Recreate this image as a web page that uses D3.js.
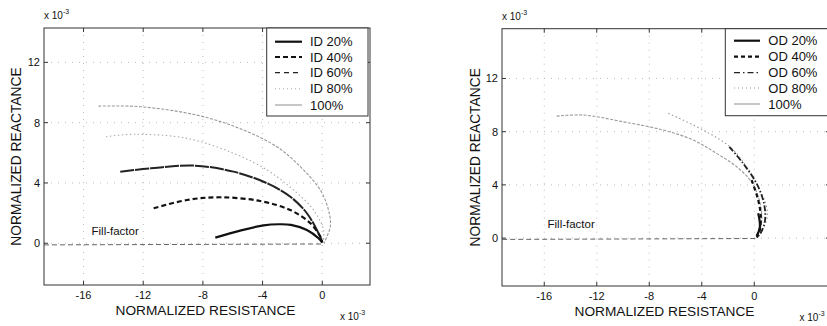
<!DOCTYPE html>
<html><head><meta charset="utf-8">
<script src="https://cdn.jsdelivr.net/npm/d3@7"></script>
<style>body{margin:0;background:#fff}svg{display:block}text{font-family:"Liberation Sans",Arial,sans-serif;fill:#111}</style>
</head><body><svg id="c" width="827" height="326"></svg>
<script>
// ---- DATA (units of 1e-3) ----
const xTicks = [-16, -12, -8, -4, 0];
const yTicks = [0, 4, 8, 12];
const leftLabels = ["ID 20%", "ID 40%", "ID 60%", "ID 80%", "100%"];
const rightLabels = ["OD 20%", "OD 40%", "OD 60%", "OD 80%", "100%"];
const fillFactorLeft = [[-18.65, -0.11], [0.05, -0.05]];
const fillFactorRight = [[-19.2, -0.1], [0.1, -0.03]];
// left panel (inner defect)
const id20 = [[-7.17,0.37],[-5.5,0.84],[-3.93,1.19],[-2.9,1.26],[-2.1,1.22],[-1.03,0.88],[-0.25,0.33],[0,0.05]];
const id40 = [[-11.3,2.32],[-9.07,2.87],[-6.84,3.05],[-4.16,2.8],[-2.14,2.2],[-0.8,1.33],[-0.13,0.44],[0,0.05]];
const id60 = [[-13.54,4.75],[-11.5,4.97],[-8.6,5.15],[-5.95,4.75],[-3.7,3.98],[-2.14,3.09],[-1.03,1.99],[-0.36,0.88],[0,0.1]];
const id80 = [[-14.5,7.07],[-12.6,7.23],[-9.07,6.96],[-5.95,5.97],[-3.7,4.86],[-1.92,3.53],[-0.58,2.2],[0.09,0.88],[0.05,0.05]];
const id100 = [[-15.0,9.1],[-12.2,9.06],[-8.4,8.5],[-5.5,7.6],[-3.04,6.4],[-1.47,5.08],[-0.13,3.53],[0.42,2.2],[0.54,1.1],[0.1,0.0]];
// right panel (outer defect)
const od20 = [[0.3,1.86],[0.43,0.85],[0.18,0.15]];
const od40 = [[-0.2,4.36],[0.3,2.86],[0.5,1.6],[0.42,0.6],[0.2,0.05]];
const od60 = [[-1.9,6.86],[-0.84,5.6],[0.18,4.1],[0.74,2.6],[0.82,1.35],[0.5,0.4],[0.2,0.05]];
const od80 = [[-6.55,9.38],[-3.89,8.12],[-1.85,6.86],[-0.58,5.36],[0.3,3.86],[0.94,2.35],[0.94,1.35],[0.43,0.35],[0.18,0.05]];
const od100 = [[-15.06,9.17],[-13.0,9.25],[-9.98,8.74],[-6.93,8.12],[-4.65,7.37],[-2.87,6.37],[-1.34,5.36],[-0.2,4.2],[0.45,2.6],[0.55,1.1],[0.2,0.0]];

// ---- STYLES ----
const styles = [
  {stroke:"#111", w:2.2, dash:null, legDash:null},
  {stroke:"#111", w:2.2, dash:"5,3", legDash:"5,3"},
  {stroke:"#222", w:2.0, dash:"14,1", legDash:"5,4", legW:1.2},
  {stroke:"#aaa", w:1.1, dash:"1.5,2.5", legDash:"1,3"},
  {stroke:"#999", w:1.1, dash:"3,1.5", legDash:null}
];
const stylesR = [
  {stroke:"#111", w:2.2, dash:null, legDash:null},
  {stroke:"#111", w:2.2, dash:"4,3", legDash:"4,3"},
  {stroke:"#222", w:1.8, dash:"6,2,1.5,2", legDash:"6,3,1.5,3", legW:1.3},
  {stroke:"#999", w:1.1, dash:"1.5,2.5", legDash:"1,3"},
  {stroke:"#999", w:1.1, dash:"3,1.5", legDash:null}
];

const svg = d3.select("#c");

function panel(cfg) {
  const x = d3.scaleLinear().domain(cfg.xd).range(cfg.xr);
  const y = d3.scaleLinear().domain(cfg.yd).range(cfg.yr);
  const g = svg.append("g");
  const [x0, x1] = cfg.xr, [y1, y0] = cfg.yr;
  // grid
  g.selectAll(".gx").data(xTicks).join("line")
    .attr("x1", d => x(d)).attr("x2", d => x(d)).attr("y1", y0).attr("y2", y1)
    .attr("stroke", "#bbb").attr("stroke-width", 1).attr("stroke-dasharray", "1,6");
  g.selectAll(".gy").data(yTicks).join("line")
    .attr("y1", d => y(d)).attr("y2", d => y(d)).attr("x1", x0).attr("x2", x1)
    .attr("stroke", "#bbb").attr("stroke-width", 1).attr("stroke-dasharray", "1,6");
  // clip
  const cid = "clip" + cfg.id;
  svg.append("clipPath").attr("id", cid).append("rect")
    .attr("x", x0).attr("y", y0).attr("width", x1 - x0).attr("height", y1 - y0);
  const line = d3.line().x(d => x(d[0])).y(d => y(d[1])).curve(d3.curveCatmullRom.alpha(0.5));
  const cg = g.append("g").attr("clip-path", `url(#${cid})`);
  // fill factor line
  cg.append("path").attr("d", d3.line().x(d => x(d[0])).y(d => y(d[1]))(cfg.ff))
    .attr("fill", "none").attr("stroke", "#666").attr("stroke-width", 1).attr("stroke-dasharray", "5,3");
  // series (draw lighter first)
  cfg.series.map((s, i) => ({s, i})).reverse().forEach(({s, i}) => {
    const st = cfg.styles[i];
    cg.append("path").attr("d", line(s)).attr("fill", "none")
      .attr("stroke", st.stroke).attr("stroke-width", st.w)
      .attr("stroke-dasharray", st.dash).attr("stroke-linecap", "butt");
  });
  // box
  g.append("rect").attr("x", x0).attr("y", y0).attr("width", x1 - x0).attr("height", y1 - y0)
    .attr("fill", "none").attr("stroke", "#333").attr("stroke-width", 1);
  // ticks (inside)
  const tl = 4;
  xTicks.forEach(t => {
    g.append("line").attr("x1", x(t)).attr("x2", x(t)).attr("y1", y1).attr("y2", y1 - tl).attr("stroke", "#333");
    g.append("line").attr("x1", x(t)).attr("x2", x(t)).attr("y1", y0).attr("y2", y0 + tl).attr("stroke", "#333");
  });
  yTicks.forEach(t => {
    g.append("line").attr("y1", y(t)).attr("y2", y(t)).attr("x1", x0).attr("x2", x0 + tl).attr("stroke", "#333");
    g.append("line").attr("y1", y(t)).attr("y2", y(t)).attr("x1", x1).attr("x2", x1 - tl).attr("stroke", "#333");
  });
  // tick labels
  g.selectAll(".tx").data(xTicks).join("text")
    .attr("x", d => x(d)).attr("y", y1 + 14).attr("text-anchor", "middle")
    .attr("font-size", 11).text(d => d);
  g.selectAll(".ty").data(yTicks).join("text")
    .attr("x", x0 - 4).attr("y", d => y(d) + 4).attr("text-anchor", "end")
    .attr("font-size", 11).text(d => d);
  // axis labels
  g.append("text").attr("x", (x0 + x1) / 2 - 1.5).attr("y", y1 + 30).attr("text-anchor", "middle")
    .attr("font-size", 13.7).text("NORMALIZED RESISTANCE");
  g.append("text").attr("transform", `translate(${cfg.ylabX},${(y0 + y1) / 2}) rotate(-90)`)
    .attr("text-anchor", "middle").attr("font-size", 13.8).text("NORMALIZED REACTANCE");
  // exponent labels
  const exp = (px, py) => {
    const t = g.append("text").attr("x", px).attr("y", py).attr("font-size", 10);
    t.append("tspan").text("x 10");
    t.append("tspan").attr("dy", -5).attr("font-size", 7).text("-3");
  };
  exp(x0, y0 - 9);
  exp(cfg.xexpX, y1 + 35);
  // fill factor label
  g.append("text").attr("x", cfg.ffLab[0]).attr("y", cfg.ffLab[1]).attr("font-size", 11.5)
    .attr("fill", "#222").text("Fill-factor");
  // legend
  const L = cfg.leg;
  g.append("rect").attr("x", L.x).attr("y", y0).attr("width", L.w).attr("height", L.h)
    .attr("fill", "#fff").attr("stroke", "#333").attr("stroke-width", 1);
  cfg.labels.forEach((lab, i) => {
    const st = cfg.styles[i];
    const cy = L.rows[i];
    g.append("line").attr("x1", L.lx0).attr("x2", L.lx1).attr("y1", cy).attr("y2", cy)
      .attr("stroke", st.stroke).attr("stroke-width", st.legW || st.w)
      .attr("stroke-dasharray", st.legDash);
    g.append("text").attr("x", L.tx).attr("y", cy + 4.7).attr("font-size", 13).text(lab);
  });
}

panel({
  id: "L", xd: [-18.65, 3.2], xr: [44, 370], yd: [-2.77, 14.28], yr: [285, 28],
  series: [id20, id40, id60, id80, id100], styles: styles, labels: leftLabels,
  ff: fillFactorLeft, ffLab: [91.5, 235], ylabX: 20.5, xexpX: 340,
  leg: {x: 266.7, w: 101.3, h: 88, lx0: 275, lx1: 302, tx: 310, rows: [41.7, 57, 72.7, 88.7, 105]}
});
panel({
  id: "R", xd: [-19.22, 5.77], xr: [502, 830], yd: [-3.6, 15.74], yr: [286, 28.7],
  series: [od20, od40, od60, od80, od100], styles: stylesR, labels: rightLabels,
  ff: fillFactorRight, ffLab: [547.5, 228], ylabX: 480, xexpX: 799.5,
  leg: {x: 725.3, w: 103, h: 87, lx0: 734, lx1: 760, tx: 768.3, rows: [40.7, 56.7, 72.7, 88, 104]}
});
</script></body></html>
